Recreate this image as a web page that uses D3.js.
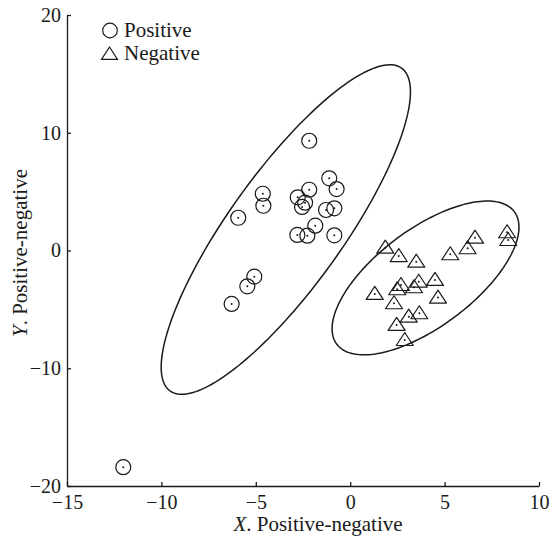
<!DOCTYPE html>
<html>
<head>
<meta charset="utf-8">
<script src="https://cdn.jsdelivr.net/npm/d3@7"></script>
<style>
  body { margin: 0; background: #fff; }
  svg { display: block; }
</style>
</head>
<body>
<script>
// positive samples (circles)
const posX = [-2.17, -1.11, -0.72, -4.63, -4.60, -5.93, -2.17, -2.78, -2.39, -2.55, -1.28, -0.84, -1.85, -2.80, -2.27, -0.84, -5.08, -5.45, -6.28, -12.02];
const posY = [9.32, 6.13, 5.22, 4.82, 3.80, 2.78, 5.16, 4.52, 4.06, 3.70, 3.44, 3.58, 2.11, 1.32, 1.26, 1.29, -2.22, -3.04, -4.54, -18.4];

// negative samples (triangles)
const negX = [1.86, 2.57, 3.50, 5.30, 6.22, 6.61, 8.31, 8.37, 1.30, 2.49, 2.69, 3.38, 3.63, 4.49, 4.65, 2.32, 3.10, 3.66, 2.46, 2.89];
const negY = [0.24, -0.47, -0.95, -0.32, 0.19, 1.09, 1.55, 0.89, -3.69, -3.29, -2.93, -3.12, -2.65, -2.50, -4.00, -4.48, -5.62, -5.33, -6.32, -7.60];

// cluster ellipses: centre plus two conjugate half-axis vectors, data units
const ellipseCx = [-3.41, 3.99];
const ellipseCy = [1.78, -2.33];
const ellipseU = [[6.13, 13.71], [4.70, 5.63]];
const ellipseV = [[-2.45, 2.81], [-1.55, 3.31]];

const xTicks = [-15, -10, -5, 0, 5, 10];
const yTicks = [-20, -10, 0, 10, 20];
const legendLabels = ["Positive", "Negative"];

const width = 552, height = 537;
const font = "'Liberation Serif', 'Times New Roman', serif";
const ink = "#1a1a1a";

const x = d3.scaleLinear([-15, 10], [67, 539]);
const y = d3.scaleLinear([-20, 20], [486, 15]);

const svg = d3.select("body").append("svg")
  .attr("width", width)
  .attr("height", height)
  .attr("viewBox", [0, 0, width, height]);

// axes, ticks pointing inward
svg.append("g")
  .attr("transform", `translate(0,${y(-20)})`)
  .call(d3.axisBottom(x).tickValues(xTicks).tickSizeInner(-4).tickSizeOuter(0).tickPadding(9))
  .call(g => g.selectAll("text").attr("font-size", 20).attr("fill", ink))
  .call(g => g.selectAll("path,line").attr("stroke", ink).attr("stroke-width", 1.3))
  .attr("font-family", font);

svg.append("g")
  .attr("transform", `translate(${x(-15)},0)`)
  .call(d3.axisLeft(y).tickValues(yTicks).tickSizeInner(-4).tickSizeOuter(0).tickPadding(6))
  .call(g => g.selectAll("text").attr("font-size", 20).attr("fill", ink))
  .call(g => g.selectAll("path,line").attr("stroke", ink).attr("stroke-width", 1.3))
  .attr("font-family", font);

// axis titles
const xTitle = svg.append("text")
  .attr("x", 318).attr("y", 531)
  .attr("text-anchor", "middle")
  .attr("font-family", font).attr("font-size", 21).attr("fill", ink);
xTitle.append("tspan").attr("font-style", "italic").text("X");
xTitle.append("tspan").text(". Positive-negative");

const yTitle = svg.append("text")
  .attr("transform", "translate(27,253) rotate(-90)")
  .attr("text-anchor", "middle")
  .attr("font-family", font).attr("font-size", 21).attr("fill", ink);
yTitle.append("tspan").attr("font-style", "italic").text("Y");
yTitle.append("tspan").text(". Positive-negative");

// ellipses
const steps = d3.range(0, 2 * Math.PI, Math.PI / 90);
const ellipseLine = d3.line().curve(d3.curveLinearClosed);
ellipseCx.forEach((cx, i) => {
  const [ux, uy] = ellipseU[i], [vx, vy] = ellipseV[i];
  svg.append("path")
    .attr("d", ellipseLine(steps.map(t => [
      x(cx + ux * Math.cos(t) + vx * Math.sin(t)),
      y(ellipseCy[i] + uy * Math.cos(t) + vy * Math.sin(t))
    ])))
    .attr("fill", "none")
    .attr("stroke", ink)
    .attr("stroke-width", 1.5);
});

// triangle shape: dot sits a little above the centroid
const tri = (w, up, down) => `M0,${-up}L${w / 2},${down}L${-w / 2},${down}Z`;

// positive markers
const pos = svg.append("g").selectAll("g")
  .data(d3.range(posX.length))
  .join("g")
  .attr("transform", i => `translate(${x(posX[i])},${y(posY[i])})`);
pos.append("circle").attr("r", 7.5).attr("fill", "none").attr("stroke", ink).attr("stroke-width", 1.2);
pos.append("circle").attr("r", 1).attr("fill", ink);

// negative markers
const neg = svg.append("g").selectAll("g")
  .data(d3.range(negX.length))
  .join("g")
  .attr("transform", i => `translate(${x(negX[i])},${y(negY[i])})`);
neg.append("path").attr("d", tri(17, 7.5, 5.5)).attr("fill", "none").attr("stroke", ink).attr("stroke-width", 1.2).attr("stroke-linejoin", "round");
neg.append("circle").attr("r", 1).attr("fill", ink);

// legend
const legend = svg.append("g").attr("font-family", font).attr("font-size", 21).attr("fill", ink);
legend.append("circle").attr("cx", 110).attr("cy", 30.5).attr("r", 7.3)
  .attr("fill", "none").attr("stroke", ink).attr("stroke-width", 1.2);
legend.append("path").attr("transform", "translate(109.5,53.5)").attr("d", tri(16, 6.5, 5.8))
  .attr("fill", "none").attr("stroke", ink).attr("stroke-width", 1.2);
legend.selectAll("text")
  .data(legendLabels)
  .join("text")
  .attr("x", 124)
  .attr("y", (d, i) => 37 + i * 23)
  .text(d => d);
</script>
</body>
</html>
